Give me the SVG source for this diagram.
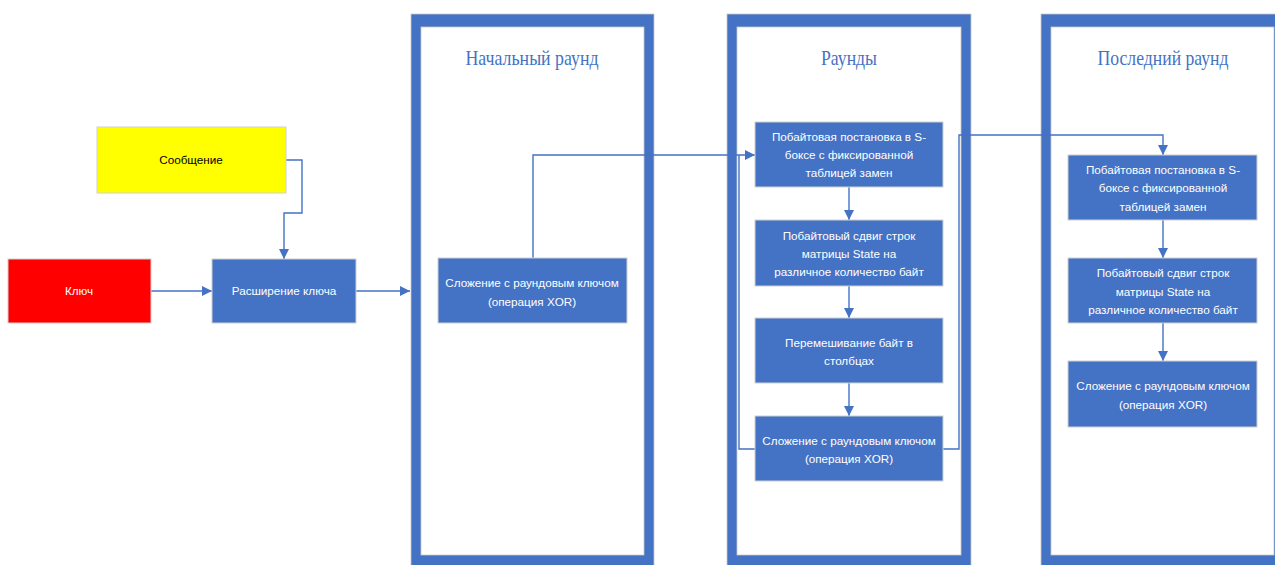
<svg xmlns="http://www.w3.org/2000/svg" width="1275" height="565" viewBox="0 0 1275 565">
<style>
.frame{fill:#4472C4;stroke:#C8C8C8;stroke-width:0.8}
.inner{fill:#FFFFFF;stroke:#C8C8C8;stroke-width:0.8}
.box{fill:#4472C4;stroke:#D0D0D0;stroke-width:1}
.t{font-family:"Liberation Sans",Arial,sans-serif;font-size:11.7px;fill:#FFFFFF;text-anchor:middle}
.title{font-family:"Liberation Serif","Times New Roman",serif;font-size:22px;fill:#4472C4;text-anchor:middle}
.c{fill:none;stroke:#4472C4;stroke-width:1.4}
.ca{fill:none;stroke:#4472C4;stroke-width:1.4;marker-end:url(#ah)}
</style>
<defs>
<marker id="ah" markerUnits="userSpaceOnUse" markerWidth="10" markerHeight="10" viewBox="0 0 10 10" refX="10" refY="5" orient="auto">
<path d="M0,0 L10,5 L0,10 z" fill="#4472C4"/>
</marker>
</defs>
<rect width="1275" height="565" fill="#FFFFFF"/>

<g id="panel-initial">
<rect class="frame" x="411" y="14" width="243" height="560"/>
<rect class="inner" x="421" y="27" width="223" height="528"/>
<text class="title" x="532" y="65" textLength="133" lengthAdjust="spacingAndGlyphs">Начальный раунд</text>
</g>
<g id="panel-rounds">
<rect class="frame" x="727" y="14" width="244" height="560"/>
<rect class="inner" x="737" y="27" width="224" height="528"/>
<text class="title" x="849" y="65" textLength="56" lengthAdjust="spacingAndGlyphs">Раунды</text>
</g>
<g id="panel-last">
<rect class="frame" x="1041" y="14" width="260" height="560"/>
<rect class="inner" x="1051" y="27" width="223" height="528"/>
<text class="title" x="1163" y="65" textLength="131" lengthAdjust="spacingAndGlyphs">Последний раунд</text>
</g>

<g id="connectors">
<path class="ca" d="M286,160 H302 V213 H284 V259"/>
<path class="ca" d="M151,291 H212"/>
<path class="ca" d="M356,291 H410"/>
<path class="ca" d="M533,258 V155 H755"/>
<path class="c" d="M755,449 H739 V155"/>
<path class="ca" d="M943,449 H959 V135 H1163 V155"/>
<path class="ca" d="M849,187 V220"/>
<path class="ca" d="M849,286 V318"/>
<path class="ca" d="M849,383 V416"/>
<path class="ca" d="M1163,220 V258"/>
<path class="ca" d="M1163,323 V361"/>
</g>

<g id="message">
<rect x="97" y="127" width="189" height="66" fill="#FFFF00" stroke="#D0D0D0" stroke-width="1"/>
<text class="t" x="191" y="164" style="fill:#000000">Сообщение</text>
</g>
<g id="key">
<rect x="8" y="259" width="143" height="64" fill="#FF0000" stroke="#D0D0D0" stroke-width="1"/>
<text class="t" x="79" y="295">Ключ</text>
</g>
<g id="key-expansion">
<rect class="box" x="212" y="259" width="144" height="64"/>
<text class="t" x="284" y="295">Расширение ключа</text>
</g>

<g id="init-xor">
<rect class="box" x="438" y="258" width="189" height="65"/>
<text class="t" x="532" y="287">Сложение с раундовым ключом</text>
<text class="t" x="532" y="306">(операция XOR)</text>
</g>

<g id="r-subbytes">
<rect class="box" x="755" y="122" width="188" height="65"/>
<text class="t" x="849" y="141">Побайтовая постановка в S-</text>
<text class="t" x="849" y="159">боксе с фиксированной</text>
<text class="t" x="849" y="177">таблицей замен</text>
</g>
<g id="r-shiftrows">
<rect class="box" x="755" y="220" width="188" height="66"/>
<text class="t" x="849" y="240">Побайтовый сдвиг строк</text>
<text class="t" x="849" y="258">матрицы State на</text>
<text class="t" x="849" y="276">различное количество байт</text>
</g>
<g id="r-mixcolumns">
<rect class="box" x="755" y="318" width="188" height="65"/>
<text class="t" x="849" y="347">Перемешивание байт в</text>
<text class="t" x="849" y="365">столбцах</text>
</g>
<g id="r-xor">
<rect class="box" x="755" y="416" width="188" height="65"/>
<text class="t" x="849" y="445">Сложение с раундовым ключом</text>
<text class="t" x="849" y="463">(операция XOR)</text>
</g>

<g id="l-subbytes">
<rect class="box" x="1068" y="155" width="189" height="65"/>
<text class="t" x="1163" y="174">Побайтовая постановка в S-</text>
<text class="t" x="1163" y="192">боксе с фиксированной</text>
<text class="t" x="1163" y="211">таблицей замен</text>
</g>
<g id="l-shiftrows">
<rect class="box" x="1068" y="258" width="189" height="65"/>
<text class="t" x="1163" y="277">Побайтовый сдвиг строк</text>
<text class="t" x="1163" y="296">матрицы State на</text>
<text class="t" x="1163" y="314">различное количество байт</text>
</g>
<g id="l-xor">
<rect class="box" x="1068" y="361" width="189" height="66"/>
<text class="t" x="1163" y="390">Сложение с раундовым ключом</text>
<text class="t" x="1163" y="409">(операция XOR)</text>
</g>
</svg>
